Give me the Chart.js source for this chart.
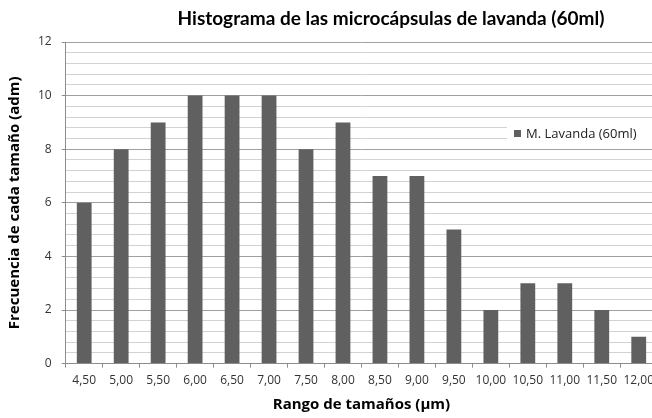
<!DOCTYPE html>
<html>
<head>
<meta charset="utf-8">
<script src="https://cdn.jsdelivr.net/npm/chart.js@4/dist/chart.umd.min.js"></script>
<style>
html,body{margin:0;padding:0;background:#fff;overflow:hidden;}
#wrap{width:660px;height:418px;position:relative;}
</style>
</head>
<body>
<div id="wrap"><canvas id="histo"></canvas></div>
<script>
//=============================
// DATA
//=============================

const sizes = ["4,50","5,00","5,50","6,00","6,50","7,00","7,50","8,00",
               "8,50","9,00","9,50","10,00","10,50","11,00","11,50","12,00"];

const frequency = [6,8,9,10,10,10,8,9,7,7,5,2,3,3,2,1];

const yTicks = [0,2,4,6,8,10,12];

const seriesName = "M. Lavanda (60ml)";
const chartTitle = "Histograma de las microcápsulas de lavanda (60ml)";

const FONT = "'Open Sans', 'DejaVu Sans', sans-serif";
const TITLE_FONT = "Lato, 'DejaVu Sans', sans-serif";
const BAR = "#606060";

// 4 light lines between each labelled tick
const MINOR = 5;

function isMajor(v){
    return yTicks.some(t => Math.abs(t - v) < 1e-6);
}

//=============================
// TITLE + LEGEND (drawn by hand)
//=============================

const decor = {
    id:"decor",
    afterDraw(chart){
        const c = chart.ctx;
        const area = chart.chartArea;
        c.save();

        // title
        c.font = "bold 19px " + TITLE_FONT;
        c.fillStyle = "#000";
        c.textAlign = "center";
        c.textBaseline = "middle";
        c.fillText(chartTitle, 391, 19);

        // legend box sitting over the grid
        c.fillStyle = "#fff";
        c.fillRect(507, 124, area.right - 507 + 10, 19);
        c.fillStyle = BAR;
        c.fillRect(514, 130, 7, 7);
        c.font = "13px " + FONT;
        c.fillStyle = "#222";
        c.textAlign = "left";
        c.fillText(chart.data.datasets[0].label, 526, 134);

        c.restore();
    }
};

//=============================
// CHART
//=============================

new Chart(document.getElementById("histo"),{

type:"bar",

data:{
    labels:sizes,
    datasets:[{
        label:seriesName,
        data:frequency,
        backgroundColor:BAR,
        categoryPercentage:1,
        barPercentage:0.4
    }]
},

options:{
    responsive:true,
    maintainAspectRatio:false,
    animation:false,
    layout:{ padding:{ top:42, left:6, right:0, bottom:4 } },
    plugins:{
        legend:{ display:false },
        title:{ display:false },
        tooltip:{ enabled:false }
    },
    scales:{
        x:{
            grid:{
                drawOnChartArea:false,
                drawTicks:true,
                tickLength:4,
                color:"#8c8c8c",
                offset:true
            },
            border:{ color:"#8c8c8c" },
            ticks:{
                color:"#333",
                font:{ family:FONT, size:12 },
                maxRotation:0,
                autoSkip:false,
                padding:6
            },
            title:{
                display:true,
                text:"Rango de tamaños (µm)",
                color:"#000",
                font:{ family:FONT, size:15, weight:"bold" },
                padding:{ top:2, bottom:0 }
            }
        },
        y:{
            min:0,
            max:12,
            afterBuildTicks(scale){
                const t = [];
                for(let i = 0; i < yTicks.length - 1; i++){
                    const step = (yTicks[i+1] - yTicks[i]) / MINOR;
                    for(let k = 0; k < MINOR; k++){
                        t.push({ value: yTicks[i] + k * step });
                    }
                }
                t.push({ value: yTicks[yTicks.length - 1] });
                scale.ticks = t;
            },
            grid:{
                color:ctx => isMajor(ctx.tick.value) ? "#a0a0a0" : "#d2d2d2",
                tickColor:ctx => isMajor(ctx.tick.value) ? "#8c8c8c" : "rgba(0,0,0,0)",
                tickLength:4,
                lineWidth:1
            },
            border:{ color:"#8c8c8c" },
            ticks:{
                color:"#333",
                font:{ family:FONT, size:12 },
                padding:10,
                autoSkip:false,
                callback:v => isMajor(v) ? String(Math.round(v)) : ""
            },
            title:{
                display:true,
                text:"Frecuencia de cada tamaño (adm)",
                color:"#000",
                font:{ family:FONT, size:15, weight:"bold" },
                padding:{ top:0, bottom:4 }
            }
        }
    }
},

plugins:[decor]

});
</script>
</body>
</html>
